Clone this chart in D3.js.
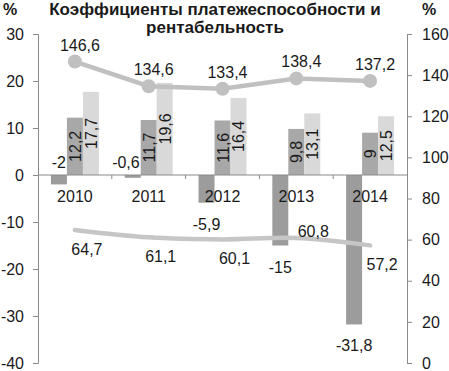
<!DOCTYPE html>
<html>
<head>
<meta charset="utf-8">
<script src="https://cdn.jsdelivr.net/npm/d3@7"></script>
<style>
body{margin:0;background:#fff;}
svg text{font-family:"Liberation Sans",Arial,sans-serif;}
</style>
</head>
<body>
<svg id="chart" width="449" height="371"></svg>
<script>
const years = ["2010","2011","2012","2013","2014"];
const barSeriesA = [-2, -0.6, -5.9, -15, -31.8];
const barSeriesB = [12.2, 11.7, 11.6, 9.8, 9];
const barSeriesC = [17.7, 19.6, 16.4, 13.1, 12.5];
const lineUpper = [146.6, 134.6, 133.4, 138.4, 137.2];
const lineLower = [64.7, 61.1, 60.1, 60.8, 57.2];
const leftTicks = [-40, -30, -20, -10, 0, 10, 20, 30];
const rightTicks = [0, 20, 40, 60, 80, 100, 120, 140, 160];
const titleLines = ["Коэффициенты платежеспособности и", "рентабельность"];

const svg = d3.select("#chart");
const L = 38, R = 407, T = 34, B = 363;
const fmt = v => String(v).replace(".", ",");

const yL = d3.scaleLinear().domain([-40, 30]).range([B, T]);
const yR = d3.scaleLinear().domain([0, 160]).range([B, T]);
const x0 = d3.scaleBand().domain(years).range([L, R]).paddingInner(0.35).paddingOuter(0.175);
const x1 = d3.scaleBand().domain([0, 1, 2]).range([0, x0.bandwidth()]);
const xc = d => x0(d) + x0.bandwidth() / 2;

const colors = ["#9c9c9c", "#a8a8a8", "#d9d9d9"];
const series = [barSeriesA, barSeriesB, barSeriesC];
const axisColor = "#8a8a8a";

// bars
series.forEach((s, si) => {
  svg.append("g").selectAll("rect").data(s).join("rect")
    .attr("x", (d, i) => x0(years[i]) + x1(si))
    .attr("width", x1.bandwidth())
    .attr("y", d => Math.min(yL(d), yL(0)))
    .attr("height", d => Math.abs(yL(d) - yL(0)))
    .attr("fill", colors[si]);
});

// left axis
const gL = svg.append("g").attr("transform", `translate(${L},0)`)
  .call(d3.axisLeft(yL).tickValues(leftTicks).tickSize(5).tickPadding(9).tickFormat(d => String(d)));
// right axis
const gR = svg.append("g").attr("transform", `translate(${R},0)`)
  .call(d3.axisRight(yR).tickValues(rightTicks).tickSize(5).tickPadding(10).tickFormat(d => String(d)));
[gL, gR].forEach(g => {
  g.selectAll("path,line").attr("stroke", axisColor);
  g.selectAll("text").attr("font-size", 16).attr("fill", "#1a1a1a");
});

// zero line and category ticks
svg.append("line").attr("x1", L).attr("x2", R).attr("y1", yL(0)).attr("y2", yL(0)).attr("stroke", axisColor);
const bounds = years.map(y => x0(y) - x0.step() * x0.paddingInner() / 2).concat([R]);
svg.append("g").selectAll("line").data(bounds.slice(1, -1)).join("line")
  .attr("x1", d => d).attr("x2", d => d).attr("y1", yL(0)).attr("y2", yL(0) + 4).attr("stroke", axisColor);
svg.append("g").selectAll("text").data(years).join("text")
  .attr("x", d => xc(d)).attr("y", yL(0) + 27).attr("text-anchor", "middle")
  .attr("font-size", 16).attr("fill", "#1a1a1a").text(d => d);

// bar labels (positive, rotated)
[barSeriesB, barSeriesC].forEach((s, k) => {
  const si = k + 1;
  svg.append("g").selectAll("text").data(s).join("text")
    .attr("transform", (d, i) => {
      const cx = x0(years[i]) + x1(si) + x1.bandwidth() / 2;
      const cy = (yL(d) + yL(0)) / 2;
      return `translate(${cx + 6},${cy}) rotate(-90)`;
    })
    .attr("text-anchor", "middle").attr("font-size", 16).attr("fill", "#1a1a1a")
    .text(d => fmt(d));
});
// negative bar labels
svg.append("g").selectAll("text").data(barSeriesA).join("text")
  .each(function(d, i) {
    const bx = x0(years[i]) + x1(0);
    const sel = d3.select(this);
    if (d > -3) {
      sel.attr("x", bx + x1.bandwidth() - 1).attr("y", yL(0) - 7).attr("text-anchor", "end");
    } else {
      sel.attr("x", bx + x1.bandwidth() / 2).attr("y", yL(d) + 27).attr("text-anchor", "middle");
    }
  })
  .attr("font-size", 16).attr("fill", "#1a1a1a").text(d => fmt(d));

// lower line
const lineLow = d3.line().x((d, i) => xc(years[i])).y(d => yR(d)).curve(d3.curveCatmullRom.alpha(0.5));
svg.append("path").datum(lineLower).attr("d", lineLow)
  .attr("fill", "none").attr("stroke", "#c6c6c6").attr("stroke-width", 4.5).attr("stroke-linecap", "round");
svg.append("g").selectAll("text").data(lineLower).join("text")
  .each(function(d, i) {
    const ly = yR(d);
    const barEnd = yL(barSeriesA[i]);
    const near = Math.abs(barEnd - ly) < 30;
    d3.select(this)
      .attr("x", xc(years[i]) + (near ? 17 : 12))
      .attr("y", near ? ly - 1 : ly + 25);
  })
  .attr("text-anchor", "middle").attr("font-size", 16).attr("fill", "#1a1a1a").text(d => fmt(d));

// upper line with markers
const lineUp = d3.line().x((d, i) => xc(years[i])).y(d => yR(d));
svg.append("path").datum(lineUpper).attr("d", lineUp)
  .attr("fill", "none").attr("stroke", "#c0c0c0").attr("stroke-width", 4.5);
svg.append("g").selectAll("circle").data(lineUpper).join("circle")
  .attr("cx", (d, i) => xc(years[i])).attr("cy", d => yR(d)).attr("r", 7).attr("fill", "#c0c0c0");
svg.append("g").selectAll("text").data(lineUpper).join("text")
  .attr("x", (d, i) => xc(years[i]) + 5).attr("y", d => yR(d) - 11)
  .attr("text-anchor", "middle").attr("font-size", 16).attr("fill", "#1a1a1a").text(d => fmt(d));

// title and units
svg.append("g").selectAll("text").data(titleLines).join("text")
  .attr("x", 215).attr("y", (d, i) => 15 + i * 18).attr("text-anchor", "middle")
  .attr("font-size", 17).attr("font-weight", "bold").attr("fill", "#1a1a1a").text(d => d);
svg.append("text").attr("x", 10).attr("y", 15).attr("text-anchor", "middle")
  .attr("font-size", 16).attr("font-weight", "bold").attr("fill", "#1a1a1a").text("%");
svg.append("text").attr("x", 429).attr("y", 15).attr("text-anchor", "middle")
  .attr("font-size", 16).attr("font-weight", "bold").attr("fill", "#1a1a1a").text("%");
</script>
</body>
</html>
